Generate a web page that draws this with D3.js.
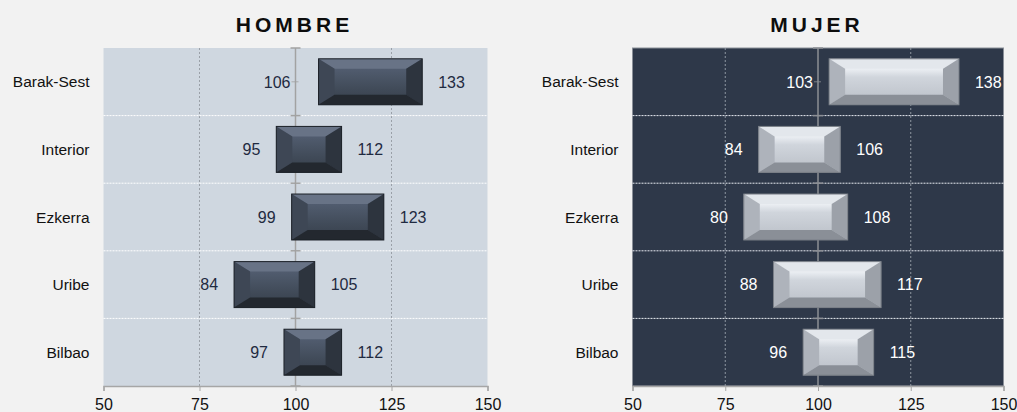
<!DOCTYPE html>
<html>
<head>
<meta charset="utf-8">
<script src="https://cdn.jsdelivr.net/npm/d3@7"></script>
<style>
  html, body { margin: 0; padding: 0; background: #f2f2f2; }
  svg { display: block; font-family: "Liberation Sans", Arial, sans-serif; }
</style>
</head>
<body>
<svg id="chart" width="1017" height="412"></svg>
<script>
// Ranges (min–max) per comarca, men and women
const categories = ["Barak-Sest", "Interior", "Ezkerra", "Uribe", "Bilbao"];
const hombreMin = [106, 95, 99, 84, 97];
const hombreMax = [133, 112, 123, 105, 112];
const mujerMin = [103, 84, 80, 88, 96];
const mujerMax = [138, 106, 108, 117, 115];
const xTicks = [50, 75, 100, 125, 150];
const xDomain = [50, 150];
const crossValue = 100;

const svg = d3.select("#chart");
const defs = svg.append("defs");

// Panel themes
const themes = {
  dark: {
    bg: "#cfd7e0", border: "none", grid: "#9aa0a8", sep: "#ffffff",
    axis: "#a2a2a2", label: "#1f2a40",
    face: [["0%", "#59647a"], ["35%", "#4c5768"], ["65%", "#414b59"], ["100%", "#363e4a"]],
    top: "#687386", left: "#3e4755", right: "#2d343e", bottom: "#23282f", stroke: "#1c2128"
  },
  light: {
    bg: "#2e3849", border: "#8a8f98", grid: "#8f96a1", sep: "#e8ecf2",
    axis: "#8c8f95", label: "#ffffff",
    face: [["0%", "#c9ced6"], ["18%", "#f1f4f8"], ["40%", "#d0d5dc"], ["100%", "#b9bec6"]],
    top: "#e3e7ec", left: "#aeb3bb", right: "#9ca1a9", bottom: "#8a8f97", stroke: "#7a7f87"
  }
};

Object.entries(themes).forEach(([key, t]) => {
  const g = defs.append("linearGradient").attr("id", "face-" + key)
    .attr("x1", 0).attr("y1", 0).attr("x2", 0).attr("y2", 1);
  t.face.forEach(([o, c]) => g.append("stop").attr("offset", o).attr("stop-color", c));
});

function drawPanel(opts) {
  const { left, right, top, bottom, title, mins, maxs, themeKey, catRight } = opts;
  const t = themes[themeKey];
  const x = d3.scaleLinear().domain(xDomain).range([left, right]);
  const y = d3.scaleBand().domain(categories).range([top, bottom]).paddingInner(0).paddingOuter(0);
  const g = svg.append("g");

  // Plot background
  g.append("rect").attr("x", left).attr("y", top)
    .attr("width", right - left).attr("height", bottom - top)
    .attr("fill", t.bg)
    .attr("stroke", t.border).attr("stroke-width", 1);

  // Vertical gridlines (except the crossing value)
  g.selectAll(".vgrid").data(xTicks.filter(v => v !== crossValue && v !== xDomain[0] && v !== xDomain[1]))
    .enter().append("line")
    .attr("x1", d => x(d)).attr("x2", d => x(d))
    .attr("y1", top).attr("y2", bottom)
    .attr("stroke", t.grid).attr("stroke-width", 1).attr("stroke-dasharray", "2,2");

  // Row separators
  const bounds = categories.slice(1).map(c => y(c));
  g.selectAll(".sep").data(bounds).enter().append("line")
    .attr("x1", left).attr("x2", right)
    .attr("y1", d => d).attr("y2", d => d)
    .attr("stroke", t.sep).attr("stroke-width", 1).attr("stroke-dasharray", "2,1");

  // Category axis crossing at 100
  const cx = x(crossValue);
  g.append("line").attr("x1", cx).attr("x2", cx).attr("y1", top).attr("y2", bottom)
    .attr("stroke", t.axis).attr("stroke-width", 1.5);
  const allBounds = [top, ...bounds, bottom];
  g.selectAll(".btick").data(allBounds).enter().append("line")
    .attr("x1", cx - 5).attr("x2", cx + 5)
    .attr("y1", d => d).attr("y2", d => d)
    .attr("stroke", t.axis).attr("stroke-width", 1.5);
  g.selectAll(".ctick").data(categories).enter().append("line")
    .attr("x1", cx - 4).attr("x2", cx + 3)
    .attr("y1", d => y(d) + y.bandwidth() / 2).attr("y2", d => y(d) + y.bandwidth() / 2)
    .attr("stroke", t.axis).attr("stroke-width", 1).attr("opacity", 0.8);

  // Bottom value axis
  const xAxis = d3.axisBottom(x).tickValues(xTicks).tickSize(5).tickPadding(8);
  const ax = g.append("g").attr("transform", `translate(0,${bottom})`).call(xAxis);
  ax.select(".domain").attr("stroke", "#a6a6a6").attr("stroke-width", 1.5);
  ax.selectAll(".tick line").attr("stroke", "#a6a6a6");
  ax.selectAll(".tick text").attr("fill", "#111").attr("font-size", "16px")
    .attr("font-family", "'Liberation Sans', Arial, sans-serif");

  // Bars with bevelled edges
  const barPad = 0.32;
  const bh = y.bandwidth() * (1 - barPad);
  const bevX = 16, bevY = 10;
  categories.forEach((c, i) => {
    const x0 = x(mins[i]), x1 = x(maxs[i]);
    const y0 = y(c) + (y.bandwidth() - bh) / 2, y1 = y0 + bh;
    const bx = Math.min(bevX, (x1 - x0) / 3);
    const bar = g.append("g");
    bar.append("rect").attr("x", x0).attr("y", y0).attr("width", x1 - x0).attr("height", bh)
      .attr("fill", `url(#face-${themeKey})`);
    const poly = (pts, fill) => bar.append("polygon")
      .attr("points", pts.map(p => p.join(",")).join(" ")).attr("fill", fill);
    poly([[x0, y0], [x1, y0], [x1 - bx, y0 + bevY], [x0 + bx, y0 + bevY]], t.top);
    poly([[x0, y0], [x0 + bx, y0 + bevY], [x0 + bx, y1 - bevY], [x0, y1]], t.left);
    poly([[x1, y0], [x1, y1], [x1 - bx, y1 - bevY], [x1 - bx, y0 + bevY]], t.right);
    poly([[x0, y1], [x0 + bx, y1 - bevY], [x1 - bx, y1 - bevY], [x1, y1]], t.bottom);
    bar.append("rect").attr("x", x0).attr("y", y0).attr("width", x1 - x0).attr("height", bh)
      .attr("fill", "none").attr("stroke", t.stroke).attr("stroke-width", 1);

    const cy = y(c) + y.bandwidth() / 2;
    // Minimum label: left of the bar, or left of the crossing axis
    const lx = mins[i] < crossValue ? x0 - 16 : cx - 5;
    g.append("text").attr("x", lx).attr("y", cy).attr("dy", "0.36em")
      .attr("text-anchor", "end").attr("font-size", "16px").attr("fill", t.label)
      .text(mins[i]);
    g.append("text").attr("x", x1 + 16).attr("y", cy).attr("dy", "0.36em")
      .attr("text-anchor", "start").attr("font-size", "16px").attr("fill", t.label)
      .text(maxs[i]);
  });

  // Category labels
  g.selectAll(".cat").data(categories).enter().append("text")
    .attr("x", catRight).attr("y", d => y(d) + y.bandwidth() / 2).attr("dy", "0.36em")
    .attr("text-anchor", "end").attr("font-size", "15.5px").attr("fill", "#111")
    .text(d => d);

  // Title
  svg.append("text").attr("x", (left + right) / 2 - 1).attr("y", 32)
    .attr("text-anchor", "middle").attr("font-size", "21px").attr("font-weight", "bold")
    .attr("letter-spacing", "4px").attr("fill", "#0d0d0d")
    .text(title);
}

drawPanel({ left: 103.5, right: 487.5, top: 48, bottom: 386, title: "HOMBRE",
  mins: hombreMin, maxs: hombreMax, themeKey: "dark", catRight: 89.5 });
drawPanel({ left: 632.5, right: 1003.5, top: 48, bottom: 386, title: "MUJER",
  mins: mujerMin, maxs: mujerMax, themeKey: "light", catRight: 618.5 });
</script>
</body>
</html>
